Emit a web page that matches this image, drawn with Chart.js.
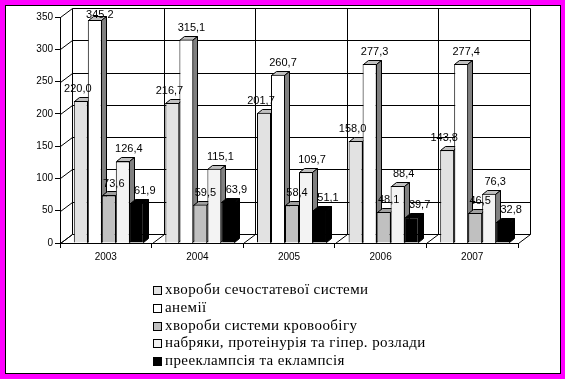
<!DOCTYPE html>
<html>
<head>
<meta charset="utf-8">
<script src="https://cdn.jsdelivr.net/npm/chart.js@4/dist/chart.umd.min.js"></script>
<style>
  body { margin: 0; background: #ff00ff; width: 565px; height: 379px; overflow: hidden; }
  .frame { position: absolute; left: 5px; top: 5px; width: 554px; height: 367px; border: 1px solid #000; background: #fff; }
  #chart { position: absolute; left: 0; top: 0; }
</style>
</head>
<body>
<div class="frame"></div>
<canvas id="chart" width="565" height="379"></canvas>
<script>
const years = ["2003", "2004", "2005", "2006", "2007"];
const seriesNames = [
  "хвороби сечостатевої системи",
  "анемії",
  "хвороби системи кровообігу",
  "набряки, протеінурія та гіпер. розлади",
  "прееклампсія та еклампсія",
];
const genitourinary = [220.0, 216.7, 201.7, 158.0, 143.8];
const anaemia = [345.2, 315.1, 260.7, 277.3, 277.4];
const circulatory = [73.6, 59.5, 58.4, 48.1, 46.5];
const oedema = [126.4, 115.1, 109.7, 88.4, 76.3];
const preeclampsia = [61.9, 63.9, 51.1, 39.7, 32.8];
const yMin = 0;
const yMax = 350;
const yStep = 50;

const seriesValues = [genitourinary, anaemia, circulatory, oedema, preeclampsia];
const frontColors = ["#e2e2e2", "#ffffff", "#c0c0c0", "#f3f3f3", "#000000"];
const topColors = ["#c0c0c0", "#c0c0c0", "#a0a0a0", "#c0c0c0", "#000000"];
const sideColors = ["#808080", "#808080", "#808080", "#808080", "#000000"];
const labelShift = [-3, 5, 5, 6, 8];

// 3d look
const wallDx = 12, wallDy = -9;
const barDx = 5, barDy = -4;
const barShift = 3;

const fmt = (v) => v.toFixed(1).replace(".", ",");

const wallPlugin = {
  id: "wall",
  beforeDatasetsDraw(chart) {
    const ctx = chart.ctx;
    const y = chart.scales.y;
    const left = chart.chartArea.left;
    const right = chart.chartArea.right;
    const bottom = chart.chartArea.bottom;
    const top = chart.chartArea.top;
    ctx.save();
    ctx.strokeStyle = "#000";
    ctx.lineWidth = 1;
    ctx.beginPath();
    // back wall gridlines + left wall diagonals
    for (let v = yMin; v <= yMax; v += yStep) {
      const py = Math.round(y.getPixelForValue(v)) + 0.5;
      ctx.moveTo(left + 0.5, py);
      ctx.lineTo(left + wallDx + 0.5, py + wallDy);
      ctx.lineTo(right + wallDx + 0.5, py + wallDy);
    }
    // category dividers on back wall and floor
    const catW = (right - left) / years.length;
    for (let i = 0; i <= years.length; i++) {
      const px = Math.round(left + i * catW) + 0.5;
      ctx.moveTo(px, bottom + 0.5);
      ctx.lineTo(px + wallDx, bottom + 0.5 + wallDy);
      ctx.lineTo(px + wallDx, Math.round(top) + 0.5 + wallDy);
    }
    ctx.stroke();

    // bar tops and sides, behind the front faces
    ctx.translate(barShift, 0);
    years.forEach((yr, c) => {
      seriesValues.forEach((vals, s) => {
        const el = chart.getDatasetMeta(s).data[c];
        const l = Math.round(el.x - el.width / 2) + 0.5;
        const r = Math.round(el.x + el.width / 2) - 0.5;
        const t = Math.round(el.y) + 0.5;
        const b = Math.round(el.base) - 0.5;
        ctx.beginPath();
        ctx.moveTo(l, t);
        ctx.lineTo(l + barDx, t + barDy);
        ctx.lineTo(r + barDx, t + barDy);
        ctx.lineTo(r, t);
        ctx.closePath();
        ctx.fillStyle = topColors[s];
        ctx.fill();
        ctx.stroke();
        ctx.beginPath();
        ctx.moveTo(r, t);
        ctx.lineTo(r + barDx, t + barDy);
        ctx.lineTo(r + barDx, b + barDy);
        ctx.lineTo(r, b);
        ctx.closePath();
        ctx.fillStyle = sideColors[s];
        ctx.fill();
        ctx.stroke();
      });
    });
    ctx.restore();
    ctx.save();
    ctx.translate(barShift, 0);
  },
  afterDatasetsDraw(chart) {
    const ctx = chart.ctx;
    ctx.restore();
    ctx.save();
    ctx.fillStyle = "#000";
    ctx.font = "11px 'Liberation Sans', Arial, sans-serif";
    ctx.textAlign = "center";
    ctx.textBaseline = "middle";
    seriesValues.forEach((vals, s) => {
      const meta = chart.getDatasetMeta(s);
      vals.forEach((v, c) => {
        const el = meta.data[c];
        const ly = Math.max(el.y - 12, 15);
        ctx.fillText(fmt(v), el.x + barShift + labelShift[s], ly);
      });
    });
    ctx.restore();
  },
  afterDraw(chart) {
    const ctx = chart.ctx;
    ctx.save();
    ctx.font = "15px 'Liberation Serif', 'Times New Roman', serif";
    ctx.letterSpacing = "0.4px";
    ctx.textBaseline = "middle";
    ctx.lineWidth = 1;
    ctx.strokeStyle = "#000";
    seriesNames.forEach((name, i) => {
      const cy = Math.round(290 + i * 17.8);
      ctx.fillStyle = frontColors[i];
      ctx.fillRect(153, cy - 4, 9, 9);
      ctx.strokeRect(153.5, cy - 3.5, 8, 8);
      ctx.fillStyle = "#000";
      ctx.fillText(name, 165, cy);
    });
    ctx.restore();
  },
};

new Chart(document.getElementById("chart"), {
  type: "bar",
  data: {
    labels: years,
    datasets: seriesValues.map((vals, s) => ({
      label: seriesNames[s],
      data: vals,
      backgroundColor: frontColors[s],
      borderColor: "#000",
      borderWidth: 1,
      barPercentage: 1,
      categoryPercentage: 0.764,
      clip: false,
    })),
  },
  options: {
    responsive: false,
    devicePixelRatio: 1,
    animation: false,
    layout: { padding: { left: 5, top: 17, right: 47, bottom: 116 } },
    plugins: {
      legend: { display: false },
      tooltip: { enabled: false },
    },
    scales: {
      x: {
        offset: true,
        grid: { offset: true, drawOnChartArea: false, drawTicks: true, tickLength: 5, color: "#000" },
        border: { color: "#000" },
        ticks: { color: "#000", padding: 3, font: { family: "'Liberation Sans', Arial", size: 10 } },
        afterFit(scale) { scale.height = 20; },
      },
      y: {
        min: yMin,
        max: yMax,
        grid: { drawOnChartArea: false, drawTicks: true, tickLength: 5, color: "#000" },
        border: { color: "#000" },
        ticks: { stepSize: yStep, color: "#000", padding: 2, font: { family: "'Liberation Sans', Arial", size: 10 } },
        afterFit(scale) { scale.width = 55; },
      },
    },
  },
  plugins: [wallPlugin],
});
</script>
</body>
</html>
